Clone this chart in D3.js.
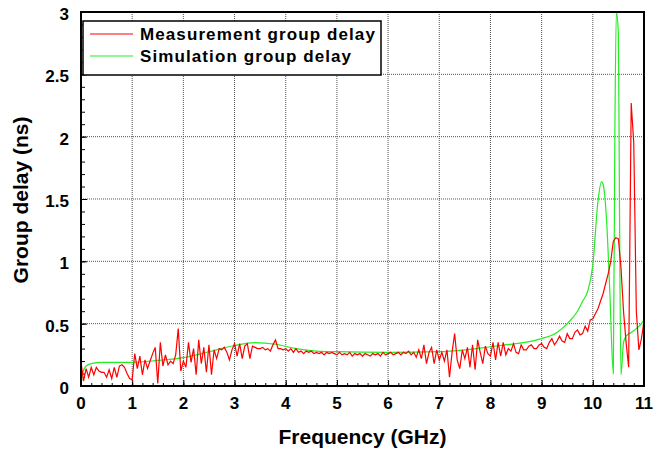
<!DOCTYPE html>
<html>
<head>
<meta charset="utf-8">
<script src="https://cdn.jsdelivr.net/npm/d3@7"></script>
<style>
  body { margin: 0; background: #fff; }
  text { font-family: Arial, "Liberation Sans", sans-serif; font-weight: bold; }
</style>
</head>
<body>
<script>
// measured group delay, one sample every 0.05 GHz from 0 to 11 GHz
const measStep = 0.05;
const measDelay = [
  0.19, 0.04, 0.14, 0.07, 0.15, 0.09, 0.15, 0.12, 0.11, 0.11, 0.07, 0.13, 0.06, 0.15, 0.07, 0.16, 0.17, 0.15, 0.10, 0.06,
  0.05, 0.26, 0.14, 0.24, 0.09, 0.21, 0.14, 0.20, 0.26, 0.31, 0.02, 0.35, 0.16, 0.25, 0.17, 0.20, 0.18, 0.25, 0.46, 0.12,
  0.20, 0.15, 0.35, 0.19, 0.30, 0.09, 0.37, 0.18, 0.31, 0.11, 0.33, 0.09, 0.29, 0.22, 0.30, 0.29, 0.31, 0.27, 0.21, 0.29,
  0.34, 0.24, 0.34, 0.22, 0.32, 0.34, 0.22, 0.32, 0.31, 0.30, 0.30, 0.31, 0.29, 0.30, 0.28, 0.33, 0.37, 0.30, 0.30, 0.29,
  0.30, 0.28, 0.30, 0.27, 0.30, 0.27, 0.28, 0.26, 0.28, 0.27, 0.28, 0.26, 0.27, 0.26, 0.27, 0.25, 0.27, 0.26, 0.27, 0.26,
  0.25, 0.27, 0.25, 0.26, 0.25, 0.27, 0.24, 0.26, 0.25, 0.26, 0.24, 0.26, 0.25, 0.24, 0.26, 0.25, 0.26, 0.24, 0.27, 0.25,
  0.26, 0.27, 0.25, 0.26, 0.27, 0.25, 0.27, 0.26, 0.28, 0.25, 0.27, 0.23, 0.29, 0.22, 0.33, 0.18, 0.27, 0.31, 0.18, 0.29,
  0.21, 0.27, 0.20, 0.29, 0.07, 0.27, 0.42, 0.21, 0.14, 0.29, 0.22, 0.31, 0.15, 0.33, 0.13, 0.37, 0.27, 0.18, 0.32, 0.26,
  0.24, 0.35, 0.21, 0.35, 0.24, 0.35, 0.25, 0.30, 0.28, 0.34, 0.27, 0.26, 0.33, 0.29, 0.29, 0.32, 0.33, 0.30, 0.30, 0.33,
  0.34, 0.31, 0.30, 0.35, 0.38, 0.33, 0.36, 0.40, 0.36, 0.35, 0.42, 0.38, 0.38, 0.43, 0.45, 0.41, 0.42, 0.48, 0.44, 0.53,
  0.54, 0.58, 0.62, 0.68, 0.74, 0.82, 0.90, 1.00, 1.16, 1.19, 1.18, 0.95, 0.60, 0.35, 0.15, 2.27, 1.95, 0.60, 0.29, 0.38,
  0.52
];

// simulated group delay, [GHz, ns]
const simDelay = [
  [0, 0], [0.03, 0.10], [0.1, 0.16], [0.2, 0.18], [0.4, 0.19], [1, 0.19], [1.5, 0.205], [2, 0.227],
  [2.5, 0.275], [3, 0.325], [3.4, 0.348], [3.8, 0.335], [4.2, 0.30], [4.6, 0.28], [5, 0.275], [6, 0.27],
  [7, 0.275], [7.5, 0.29], [8, 0.315], [8.5, 0.34], [9, 0.38], [9.3, 0.43], [9.5, 0.50], [9.7, 0.60],
  [9.8, 0.68], [9.9, 0.76], [10, 0.97], [10.1, 1.48], [10.17, 1.64], [10.2, 1.62], [10.27, 1.32],
  [10.33, 0.78], [10.4, 0.10], [10.43, 1.99], [10.46, 3.0], [10.5, 2.82], [10.52, 1.5], [10.55, 0.09],
  [10.6, 0.35], [10.65, 0.40], [10.75, 0.43], [10.85, 0.46], [10.95, 0.50], [11, 0.53]
];

const xTicks = [0, 1, 2, 3, 4, 5, 6, 7, 8, 9, 10, 11];
const yTicks = [0, 0.5, 1, 1.5, 2, 2.5, 3];
const legendLabels = ['Measurement group delay', 'Simulation group delay'];

const width = 668, height = 452;
const margin = { top: 12, right: 24, bottom: 66, left: 81 };
const plotW = width - margin.left - margin.right;
const plotH = height - margin.top - margin.bottom;

const xScale = d3.scaleLinear().domain([0, 11]).range([0, plotW]);
const yScale = d3.scaleLinear().domain([0, 3]).range([plotH, 0]);

const svg = d3.select('body').append('svg')
  .attr('width', width)
  .attr('height', height);

const graph = svg.append('g')
  .attr('transform', 'translate(' + margin.left + ',' + margin.top + ')');

graph.append('clipPath').attr('id', 'plotClip')
  .append('rect').attr('width', plotW).attr('height', plotH);

// dotted grid at the major ticks
graph.append('g')
  .selectAll('line')
  .data(xTicks.slice(1, -1))
  .enter().append('line')
  .attr('x1', d => xScale(d)).attr('x2', d => xScale(d))
  .attr('y1', 0).attr('y2', plotH)
  .attr('stroke', '#555').attr('stroke-width', 1).attr('stroke-dasharray', '1,1');

graph.append('g')
  .selectAll('line')
  .data(yTicks.slice(1, -1))
  .enter().append('line')
  .attr('x1', 0).attr('x2', plotW)
  .attr('y1', d => yScale(d)).attr('y2', d => yScale(d))
  .attr('stroke', '#555').attr('stroke-width', 1).attr('stroke-dasharray', '1,1');

// minor + major ticks pointing inward
const xMinor = d3.range(0, 11.0001, 0.2);
const yMinor = d3.range(0, 3.0001, 0.1);

graph.append('g')
  .attr('transform', 'translate(0,' + plotH + ')')
  .call(d3.axisTop(xScale).tickValues(xMinor).tickSize(3).tickFormat(''))
  .call(g => g.select('.domain').remove());

graph.append('g')
  .attr('transform', 'translate(0,' + plotH + ')')
  .call(d3.axisTop(xScale).tickValues(xTicks).tickSize(6).tickFormat(''))
  .call(g => g.select('.domain').remove());

graph.append('g')
  .call(d3.axisRight(yScale).tickValues(yMinor).tickSize(4).tickFormat(''))
  .call(g => g.select('.domain').remove());

graph.append('g')
  .call(d3.axisRight(yScale).tickValues(yTicks).tickSize(6).tickFormat(''))
  .call(g => g.select('.domain').remove());

// tick labels
graph.append('g')
  .selectAll('text')
  .data(xTicks)
  .enter().append('text')
  .attr('x', d => xScale(d))
  .attr('y', plotH + 23)
  .attr('text-anchor', 'middle')
  .style('font-size', '17px')
  .text(d => d);

graph.append('g')
  .selectAll('text')
  .data(yTicks)
  .enter().append('text')
  .attr('x', -12)
  .attr('y', d => yScale(d) + 8)
  .attr('text-anchor', 'end')
  .style('font-size', '17px')
  .text(d => d);

// curves
const simLine = d3.line()
  .x(d => xScale(d[0]))
  .y(d => yScale(d[1]))
  .curve(d3.curveMonotoneX);

const measLine = d3.line()
  .x((d, i) => xScale(i * measStep))
  .y(d => yScale(d));

graph.append('path')
  .datum(simDelay)
  .attr('clip-path', 'url(#plotClip)')
  .attr('d', simLine)
  .attr('fill', 'none')
  .attr('stroke', '#22ee22')
  .attr('stroke-width', 1.2);

graph.append('path')
  .datum(measDelay)
  .attr('clip-path', 'url(#plotClip)')
  .attr('d', measLine)
  .attr('fill', 'none')
  .attr('stroke', '#ff0000')
  .attr('stroke-width', 1.2);

// frame
graph.append('rect')
  .attr('width', plotW).attr('height', plotH)
  .attr('fill', 'none').attr('stroke', '#000').attr('stroke-width', 2);

// legend
const legend = graph.append('g').attr('transform', 'translate(2,9)');
legend.append('rect')
  .attr('width', 298).attr('height', 54)
  .attr('fill', '#fff').attr('stroke', '#000').attr('stroke-width', 1.5);

const legendColors = ['#ff0000', '#22ee22'];
legendLabels.forEach((label, i) => {
  const row = legend.append('g').attr('transform', 'translate(0,' + (13 + i * 22) + ')');
  row.append('line')
    .attr('x1', 7).attr('x2', 50)
    .attr('stroke', legendColors[i]).attr('stroke-width', 1.2);
  row.append('text')
    .attr('x', 57).attr('y', 6)
    .style('font-size', '17px')
    .style('letter-spacing', '1.1px')
    .text(label);
});

// axis titles
svg.append('text')
  .attr('x', margin.left + plotW / 2)
  .attr('y', 444)
  .attr('text-anchor', 'middle')
  .style('font-size', '21px')
  .text('Frequency (GHz)');

svg.append('text')
  .attr('transform', 'translate(28,' + 200 + ') rotate(-90)')
  .attr('text-anchor', 'middle')
  .style('font-size', '21px')
  .text('Group delay (ns)');
</script>
</body>
</html>
